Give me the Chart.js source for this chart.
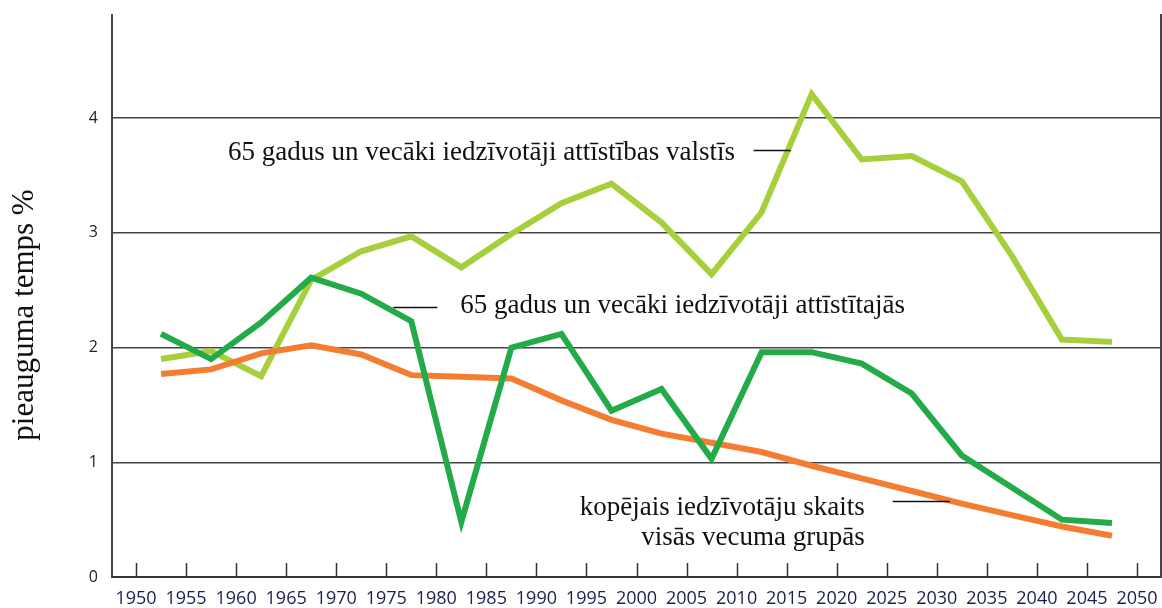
<!DOCTYPE html>
<html>
<head>
<meta charset="utf-8">
<script src="https://cdn.jsdelivr.net/npm/chart.js@4/dist/chart.umd.min.js"></script>
<style>
    html, body { margin: 0; padding: 0; background: #fff; }
    #wrap { width: 1162px; height: 608px; position: relative; }
</style>
</head>
<body>
<div id="wrap"><canvas id="chart"></canvas></div>
<script>
// Data (5-year periods, plotted at period midpoints)
const years = [1952.5, 1957.5, 1962.5, 1967.5, 1972.5, 1977.5, 1982.5, 1987.5, 1992.5, 1997.5,
               2002.5, 2007.5, 2012.5, 2017.5, 2022.5, 2027.5, 2032.5, 2037.5, 2042.5, 2047.5];
const developing65 = [1.90, 1.97, 1.75, 2.59, 2.84, 2.97, 2.70, 2.99, 3.26, 3.43,
                      3.09, 2.64, 3.18, 4.21, 3.64, 3.67, 3.45, 2.80, 2.07, 2.05];
const developed65 = [2.12, 1.90, 2.22, 2.61, 2.47, 2.23, 0.48, 2.00, 2.12, 1.45,
                     1.64, 1.03, 1.96, 1.96, 1.86, 1.60, 1.06, 0.78, 0.50, 0.47];
const totalPop = [1.77, 1.81, 1.95, 2.02, 1.94, 1.76, 1.745, 1.73, 1.54, 1.37,
                  1.25, 1.17, 1.09, 0.97, 0.86, 0.75, 0.64, 0.54, 0.44, 0.36];
const yearTicks = [1950, 1955, 1960, 1965, 1970, 1975, 1980, 1985, 1990, 1995, 2000,
                   2005, 2010, 2015, 2020, 2025, 2030, 2035, 2040, 2045, 2050];
const valueTicks = [0, 1, 2, 3, 4];

const toPoints = arr => arr.map((v, i) => ({ x: years[i], y: v }));

// Labels with leader lines, placed in data units
const notes = [
    { lines: ['65 gadus un vecāki iedzīvotāji attīstības valstīs'], x: 1959.2, y: 3.70, align: 'left',
      lead: [2011.7, 2015.4, 3.72] },
    { lines: ['65 gadus un vecāki iedzīvotāji attīstītajās'], x: 1982.4, y: 2.36, align: 'left',
      lead: [1975.7, 1980.1, 2.35] },
    { lines: ['kopējais iedzīvotāju skaits', 'visās vecuma grupās'], x: 2022.8, y: 0.60, align: 'right',
      lead: [2025.6, 2031.3, 0.66] }
];

const annotate = {
    id: 'annotate',
    afterDraw(chart) {
        const c = chart.ctx;
        const xs = chart.scales.x, ys = chart.scales.y;
        const area = chart.chartArea;
        c.save();
        // inward tick marks on the x axis
        c.strokeStyle = '#333';
        c.lineWidth = 1.5;
        yearTicks.forEach(t => {
            const px = Math.round(xs.getPixelForValue(t)) + 0.5;
            c.beginPath();
            c.moveTo(px, area.bottom);
            c.lineTo(px, area.bottom - 14);
            c.stroke();
        });
        // notes
        c.fillStyle = '#111';
        c.font = '27px "Liberation Serif", "Times New Roman", serif';
        c.textBaseline = 'middle';
        notes.forEach(n => {
            c.textAlign = n.align;
            n.lines.forEach((line, k) => {
                c.fillText(line, xs.getPixelForValue(n.x), ys.getPixelForValue(n.y) + k * 30);
            });
            const ly = Math.round(ys.getPixelForValue(n.lead[2])) + 0.5;
            c.strokeStyle = '#111';
            c.lineWidth = 1.5;
            c.beginPath();
            c.moveTo(xs.getPixelForValue(n.lead[0]), ly);
            c.lineTo(xs.getPixelForValue(n.lead[1]), ly);
            c.stroke();
        });
        // y axis title
        c.translate(25, 315);
        c.rotate(-Math.PI / 2);
        c.textAlign = 'center';
        c.font = '31px "Liberation Serif", "Times New Roman", serif';
        c.fillText('pieauguma temps %', 0, 0);
        c.restore();
    }
};

const tickFont = { family: '"Open Sans", "DejaVu Sans", sans-serif', size: 18 };

new Chart(document.getElementById('chart'), {
    type: 'line',
    data: {
        datasets: [
            { label: 'developed65', data: toPoints(developed65), borderColor: '#22ab48', order: 1 },
            { label: 'total', data: toPoints(totalPop), borderColor: '#f47d32', order: 2 },
            { label: 'developing65', data: toPoints(developing65), borderColor: '#a6cf3b', order: 3 }
        ]
    },
    options: {
        responsive: true,
        maintainAspectRatio: false,
        animation: false,
        layout: { padding: { left: 0, right: 1, top: 15, bottom: 0 } },
        elements: {
            line: { borderWidth: 6, tension: 0, borderCapStyle: 'butt', borderJoinStyle: 'miter', fill: false },
            point: { radius: 0, hoverRadius: 0 }
        },
        plugins: { legend: { display: false }, tooltip: { enabled: false } },
        scales: {
            x: {
                type: 'linear',
                min: 1947.6,
                max: 2052.4,
                afterBuildTicks: s => { s.ticks = yearTicks.map(v => ({ value: v })); },
                afterFit: s => { s.height = 31; s.paddingLeft = 0; s.paddingRight = 0; },
                grid: { display: false, drawTicks: false },
                border: { display: true, color: '#333', width: 2 },
                ticks: { color: '#1b1f4f', font: tickFont, padding: 11, maxRotation: 0, autoSkip: false,
                         callback: v => String(v) }
            },
            y: {
                min: 0,
                max: 4.9,
                afterBuildTicks: s => { s.ticks = valueTicks.map(v => ({ value: v })); },
                afterFit: s => { s.width = 112; s.paddingTop = 0; s.paddingBottom = 0; },
                grid: { color: '#444', lineWidth: 1.5, drawTicks: false },
                border: { display: true, color: '#444', width: 2 },
                ticks: { color: '#222', font: { ...tickFont, size: 16 }, padding: 14, callback: v => String(v) }
            },
            yRight: {
                position: 'right',
                min: 0,
                max: 4.9,
                afterFit: s => { s.width = 0; s.paddingTop = 0; s.paddingBottom = 0; },
                grid: { display: false, drawTicks: false },
                border: { display: true, color: '#444', width: 2 },
                ticks: { display: false }
            }
        }
    },
    plugins: [annotate]
});
</script>
</body>
</html>
